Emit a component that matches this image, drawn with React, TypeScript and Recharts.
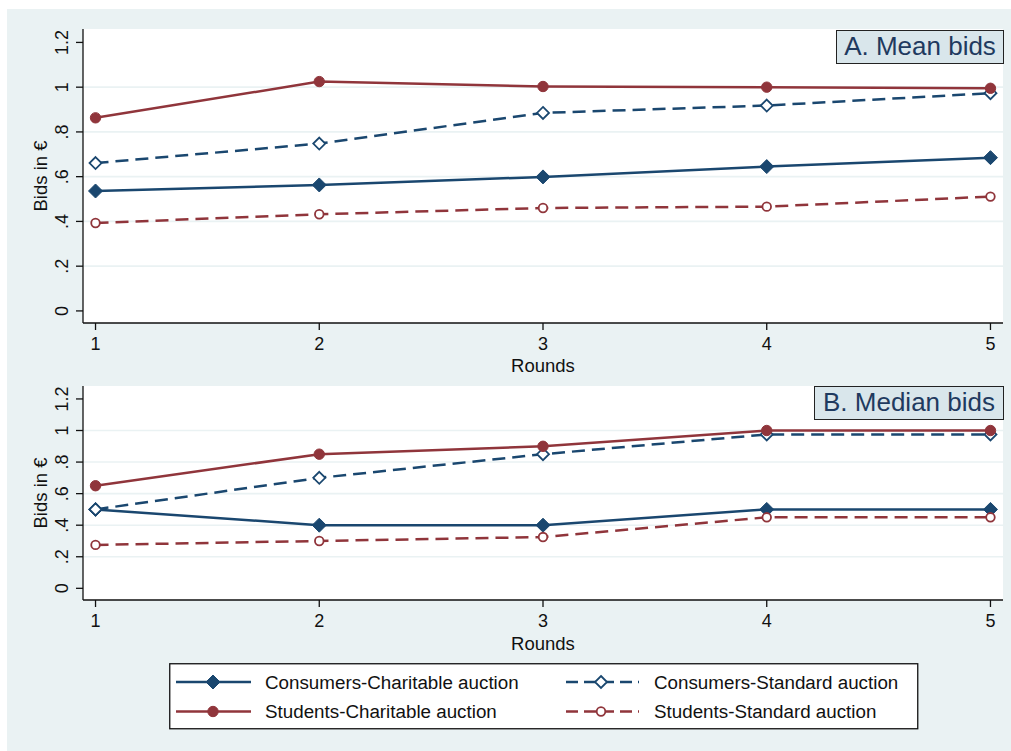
import React from 'react';
import { LineChart, Line, XAxis, YAxis, CartesianGrid, Legend } from 'recharts';

const rounds = [1, 2, 3, 4, 5];

// Panel A: mean bids
const meanConsumersCharitable = [0.536, 0.563, 0.599, 0.645, 0.685];
const meanConsumersStandard = [0.661, 0.748, 0.885, 0.918, 0.973];
const meanStudentsCharitable = [0.863, 1.025, 1.003, 1.0, 0.995];
const meanStudentsStandard = [0.393, 0.432, 0.46, 0.466, 0.511];

// Panel B: median bids
const medianConsumersCharitable = [0.5, 0.4, 0.4, 0.5, 0.5];
const medianConsumersStandard = [0.5, 0.7, 0.85, 0.975, 0.975];
const medianStudentsCharitable = [0.65, 0.85, 0.9, 1.0, 1.0];
const medianStudentsStandard = [0.275, 0.3, 0.325, 0.45, 0.45];

const yTicks = [0, 0.2, 0.4, 0.6, 0.8, 1, 1.2];
const gridValues = [0.2, 0.4, 0.6, 0.8, 1];

const NAVY = '#1a476f';
const MAROON = '#90353b';
const BG = '#eaf2f3';
const FONT = '"Liberation Sans", Arial, Helvetica, sans-serif';

const build = (a: number[], b: number[], c: number[], d: number[]) =>
  rounds.map((r, i) => ({ round: r, cc: a[i], cs: b[i], sc: c[i], ss: d[i] }));

const meanData = build(meanConsumersCharitable, meanConsumersStandard, meanStudentsCharitable, meanStudentsStandard);
const medianData = build(medianConsumersCharitable, medianConsumersStandard, medianStudentsCharitable, medianStudentsStandard);

const fmt = (v: number) => {
  if (v === 0) return '0';
  const s = String(Math.round(v * 10) / 10);
  return s.startsWith('0.') ? s.slice(1) : s;
};

const YTick = (props: any) => {
  const { y, payload } = props;
  return (
    <text x={68.5} y={y} transform={`rotate(-90, 68.5, ${y})`} textAnchor="middle" fontSize={18} fill="#111" fontFamily={FONT}>
      {fmt(payload.value)}
    </text>
  );
};

const YTitle = (props: any) => {
  const vb = props.viewBox || {};
  const cy = vb.y + vb.height / 2;
  return (
    <text x={47} y={cy} transform={`rotate(-90, 47, ${cy})`} textAnchor="middle" fontSize={18.5} fill="#111" fontFamily={FONT}>
      Bids in €
    </text>
  );
};

const FilledDiamond = (props: any) => {
  const { cx, cy, index } = props;
  const s = 7;
  return <path key={`fd${index}`} d={`M${cx},${cy - s}L${cx + s},${cy}L${cx},${cy + s}L${cx - s},${cy}Z`} fill={NAVY} stroke={NAVY} strokeWidth={1} />;
};
const HollowDiamond = (props: any) => {
  const { cx, cy, index } = props;
  const s = 6;
  return <path key={`hd${index}`} d={`M${cx},${cy - s}L${cx + s},${cy}L${cx},${cy + s}L${cx - s},${cy}Z`} fill="#fff" stroke={NAVY} strokeWidth={1.8} />;
};
const FilledCircle = (props: any) => {
  const { cx, cy, index } = props;
  return <circle key={`fc${index}`} cx={cx} cy={cy} r={5.2} fill={MAROON} stroke={MAROON} strokeWidth={1} />;
};
const HollowCircle = (props: any) => {
  const { cx, cy, index } = props;
  return <circle key={`hc${index}`} cx={cx} cy={cy} r={4.3} fill="#fff" stroke={MAROON} strokeWidth={1.8} />;
};

const DASH = '13 7';

const series = [
  { key: 'cc', name: 'Consumers-Charitable auction', color: NAVY, dash: undefined, dot: FilledDiamond },
  { key: 'cs', name: 'Consumers-Standard auction', color: NAVY, dash: DASH, dot: HollowDiamond },
  { key: 'sc', name: 'Students-Charitable auction', color: MAROON, dash: undefined, dot: FilledCircle },
  { key: 'ss', name: 'Students-Standard auction', color: MAROON, dash: DASH, dot: HollowCircle },
];

const LegendBox = () => {
  const rows = [
    [series[0], series[1]],
    [series[2], series[3]],
  ];
  const colSym = [
    { x1: 7, x2: 82, mx: 44, tx: 96 },
    { x1: 397, x2: 470, mx: 432, tx: 485 },
  ];
  const rowY = [19, 48.5];
  return (
    <svg width={750} height={67} style={{ display: 'block' }}>
      <rect x={0.75} y={0.75} width={748} height={65} fill="#fff" stroke="#111" strokeWidth={1.3} />
      {rows.map((row, ri) =>
        row.map((s, ci) => {
          const c = colSym[ci];
          const y = rowY[ri];
          const Dot = s.dot;
          return (
            <g key={`${ri}-${ci}`}>
              <line x1={c.x1} x2={c.x2} y1={y} y2={y} stroke={s.color} strokeWidth={2.5} strokeDasharray={s.dash ? '12 6' : undefined} />
              <Dot cx={c.mx} cy={y} index={0} />
              <text x={c.tx} y={y + 6.8} fontSize={18.8} fill="#111" fontFamily={FONT}>
                {s.name}
              </text>
            </g>
          );
        })
      )}
    </svg>
  );
};

const TitleBox = ({ text, left, top, width, height }: any) => (
  <div
    style={{
      position: 'absolute',
      left,
      top,
      width,
      height,
      boxSizing: 'border-box',
      border: '1.3px solid #222',
      background: '#d9e6eb',
      color: '#1f3a5f',
      fontFamily: FONT,
      fontSize: 26,
      lineHeight: `${height - 3}px`,
      textAlign: 'center',
      whiteSpace: 'nowrap',
    }}
  >
    {text}
  </div>
);

const renderLines = () =>
  series.map((s) => (
    <Line
      key={s.key}
      type="linear"
      dataKey={s.key}
      name={s.name}
      stroke={s.color}
      strokeWidth={2.5}
      strokeDasharray={s.dash}
      dot={s.dot}
      activeDot={false}
      isAnimationActive={false}
    />
  ));

const Panel = ({ data, height, margin, xHeight, yDomain, roundsOffset, legend }: any) => (
  <LineChart width={1011} height={height} data={data} margin={margin}>
    <CartesianGrid horizontal vertical={false} horizontalValues={gridValues} stroke={BG} strokeWidth={1.6} fill="#fff" />
    <XAxis
      dataKey="round"
      type="number"
      domain={[0.944, 5.056]}
      ticks={rounds}
      allowDataOverflow
      height={xHeight}
      tickSize={7}
      tickMargin={7}
      tick={{ fill: '#111', fontSize: 18, fontFamily: FONT }}
      axisLine={{ stroke: '#111', strokeWidth: 1.3 }}
      tickLine={{ stroke: '#111', strokeWidth: 1.3 }}
      label={{ value: 'Rounds', position: 'insideBottom', offset: roundsOffset, fill: '#111', fontSize: 18.5, fontFamily: FONT }}
    />
    <YAxis
      type="number"
      domain={yDomain}
      ticks={yTicks}
      allowDataOverflow
      width={83}
      tickSize={7}
      tick={<YTick />}
      axisLine={{ stroke: '#111', strokeWidth: 1.3 }}
      tickLine={{ stroke: '#111', strokeWidth: 1.3 }}
      label={<YTitle />}
    />
    {renderLines()}
    {legend}
  </LineChart>
);

export default function App() {
  return (
    <div style={{ position: 'absolute', left: 0, top: 0, width: 1011, height: 751, background: '#fff', fontFamily: FONT }}>
      <div style={{ position: 'absolute', left: 7, top: 9, width: 1004, height: 742, background: BG }} />
      <div style={{ position: 'absolute', left: 0, top: 0 }}>
        <Panel
          data={meanData}
          height={380}
          margin={{ top: 29, right: 8, left: 0, bottom: 0 }}
          xHeight={57}
          yDomain={[-0.054, 1.26]}
          roundsOffset={8}
        />
      </div>
      <div style={{ position: 'absolute', left: 0, top: 380 }}>
        <Panel
          data={medianData}
          height={371}
          margin={{ top: 6, right: 8, left: 0, bottom: 91 }}
          xHeight={60}
          yDomain={[-0.074, 1.282]}
          roundsOffset={10}
          legend={
            <Legend
              layout="horizontal"
              verticalAlign="middle"
              align="center"
              content={<LegendBox />}
              wrapperStyle={{ position: 'absolute', left: 169, top: 283, width: 750, height: 67 }}
            />
          }
        />
      </div>
      <TitleBox text="A. Mean bids" left={836} top={30} width={168} height={34} />
      <TitleBox text="B. Median bids" left={814} top={386} width={190} height={34} />
    </div>
  );
}
